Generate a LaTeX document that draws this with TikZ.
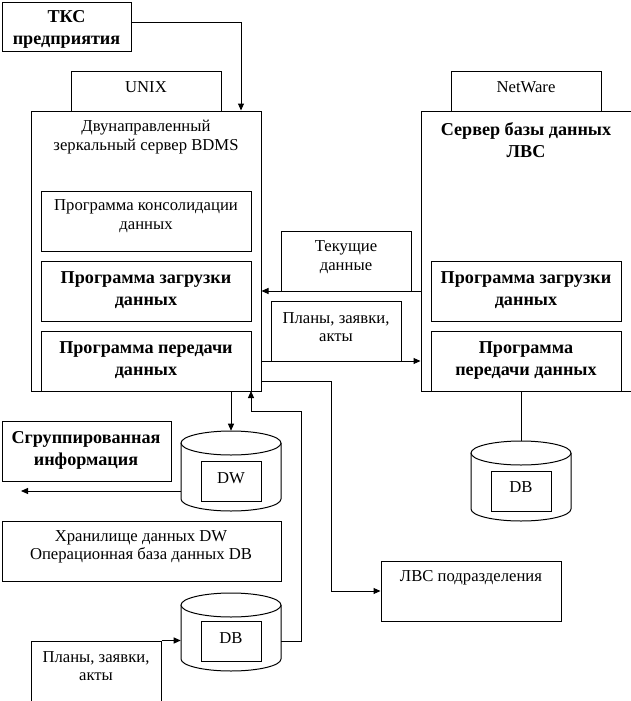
\documentclass[tikz,border=0pt]{standalone}
\usepackage{fontspec}
\setmainfont{Liberation Serif}
\usetikzlibrary{arrows.meta,calc}
\tikzset{
  box/.style={draw, line width=0.75pt, inner sep=0pt, fill=white},
  nt/.style={align=center, inner sep=0pt, font=\fontsize{12.5}{13.8}\selectfont},
  bt/.style={align=center, inner sep=0pt, font=\fontsize{13.6}{16.5}\selectfont\bfseries},
  arr/.style={line width=0.75pt, -{Triangle[length=5.25pt,width=4.5pt]}},
  ln/.style={line width=0.75pt},
  cyl/.style={line width=0.75pt, fill=white},
}
\newcommand\bx[5]{\node[box,minimum width={(#4-#2)*0.75pt},minimum height={(#5-#3)*0.75pt}] (#1) at ({(#2+#4)/2},{-(#3+#5)/2}) {};}
\newcommand\cylat[5]{% name, cx, top y, bottom y, rx ; ry=12
  \node[inner sep=0pt,minimum width={2*#5*0.75pt},minimum height={(#4-#3)*0.75pt}] (#1) at (#2,{-(#3+#4)/2}) {};
  \path[cyl,draw] ($(#2,-#3)+(-#5,-12)$) -- ($(#2,-#4)+(-#5,12)$)
     arc[start angle=180,end angle=360,x radius=#5,y radius=12]
     -- ($(#2,-#3)+(#5,-12)$);
  \draw[cyl] ($(#2,-#3)+(0,-12)$) ellipse [x radius=#5, y radius=12];
}
\begin{document}
\begin{tikzpicture}[x=0.75pt,y=0.75pt]
\useasboundingbox (0,0) rectangle (631,-701);
\clip (0,0) rectangle (631,-701);
% top left
\bx{tks}{2}{2}{131}{51}
\node[bt] (tkst) at (66.5,-29) {ТКС\\предприятия};
% UNIX server
\bx{unix}{71}{71}{221}{111}
\node[nt] (unixt) at (146,-87) {UNIX};
\bx{bdms}{31}{111}{261}{391}
\node[nt] (bdmst) at (146,-137) {Двунаправленный\\зеркальный сервер BDMS};
\bx{cons}{41}{191}{251}{251}
\node[nt] (const) at (146,-216) {Программа консолидации\\данных};
\bx{zagL}{41}{261}{251}{321}
\node[bt] (zagLt) at (146,-290) {Программа загрузки\\данных};
\bx{perL}{41}{331}{251}{391}
\node[bt] (perLt) at (146,-360) {Программа передачи\\данных};
% middle labels
\bx{tek}{281}{231}{411}{291}
\node[nt] (tekt) at (346,-257) {Текущие\\данные};
\bx{plans}{271}{301}{401}{361}
\node[nt] (planst) at (336,-327) {Планы, заявки,\\акты};
% NetWare server
\bx{netw}{451}{71}{601}{111}
\node[nt] (netwt) at (526,-87) {NetWare};
\bx{lan}{421}{111}{641}{391}
\node[bt] (lant) at (526,-140) {Сервер базы данных\\ЛВС};
\bx{zagR}{431}{261}{621}{321}
\node[bt] (zagRt) at (526,-290) {Программа загрузки\\данных};
\bx{perR}{431}{331}{621}{391}
\node[bt] (perRt) at (526,-360) {Программа\\передачи данных};
% right DB
\cylat{dbR}{521}{441}{521}{50}
\bx{dbRi}{491}{471}{551}{511}
\node[nt] (dbRt) at (521,-487) {DB};
% lower left
\bx{grp}{2}{421}{171}{481}
\node[bt] (grpt) at (86,-450) {Сгруппированная\\информация};
\cylat{dw}{231}{431}{511}{50}
\bx{dwi}{201}{461}{261}{501}
\node[nt] (dwt) at (231,-478) {DW};
\bx{legend}{2}{521}{281}{581}
\node[nt] (legendt) at (141,-547) {Хранилище данных DW\\Операционная база данных DB};
\cylat{dbL}{231}{593}{671}{50}
\bx{dbLi}{201}{621}{261}{661}
\node[nt] (dbLt) at (231,-638) {DB};
\bx{plans2}{31}{641}{161}{720}
\node[nt] (plans2t) at (96,-666) {Планы, заявки,\\акты};
\bx{lvsp}{381}{561}{561}{621}
\node[nt] (lvspt) at (471,-578) {ЛВС подразделения};
% coordinates
\coordinate (c1) at (241,-22);
\coordinate (c2) at (331,-381);
\coordinate (c3) at (301,-411);
\coordinate (c4) at (251,-391);
\coordinate (c5) at (21,-491);
% connectors
\draw[arr] (tks.east |- c1) -| (bdms.north -| c1);
\draw[arr] (lan.west |- 0,-291) -- (bdms.east |- 0,-291);
\draw[arr] (bdms.east |- 0,-361) -- (lan.west |- 0,-361);
\draw[arr] (bdms.east |- c2) -| (c2 |- lvsp.west) -- (lvsp.west);
\draw[arr] (bdms.south -| dw.north) -- (dw.north);
\draw[arr] (dbL.east |- 0,-641) -| (c3) -| (c4);
\draw[arr] (dw.west |- c5) -- (c5);
\draw[arr] (plans2.north east) -- (dbL.west |- plans2.north);
\draw[ln] (perR.south -| dbR.north) -- (dbR.north);
\end{tikzpicture}
\end{document}
